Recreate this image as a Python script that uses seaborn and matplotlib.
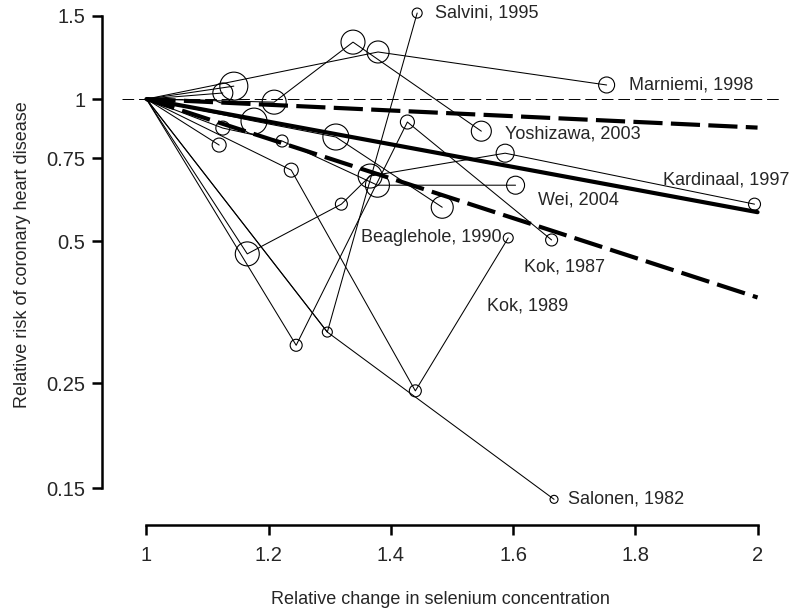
import numpy as np
import pandas as pd
import matplotlib
matplotlib.use("Agg")
import matplotlib.pyplot as plt
import seaborn as sns

# study chains: relative change in selenium and relative risk (reference point 1,1 first)
studies = ["Marniemi, 1998", "Yoshizawa, 2003", "Kardinaal, 1997", "Wei, 2004",
           "Kok, 1987", "Salonen, 1982", "Salvini, 1995", "Beaglehole, 1990", "Kok, 1989",
           "s10", "s11", "s12"]
sel_change = [
    [1, 1.379, 1.753],
    [1, 1.209, 1.338, 1.548],
    [1, 1.165, 1.319, 1.366, 1.587, 1.995],
    [1, 1.125, 1.222, 1.378, 1.604],
    [1, 1.245, 1.427, 1.663],
    [1, 1.296, 1.667],
    [1, 1.296, 1.443],
    [1, 1.237, 1.440, 1.592],
    [1, 1.119],
    [1, 1.176, 1.310, 1.484],
    [1, 1.125],
    [1, 1.143],
]
rel_risk = [
    [1, 1.258, 1.071],
    [1, 0.985, 1.320, 0.855],
    [1, 0.470, 0.599, 0.687, 0.768, 0.599],
    [1, 0.868, 0.815, 0.657, 0.657],
    [1, 0.301, 0.894, 0.503],
    [1, 0.321, 0.142],
    [1, 0.321, 1.521],
    [1, 0.707, 0.241, 0.508],
    [1, 0.799],
    [1, 0.898, 0.831, 0.590],
    [1, 1.030],
    [1, 1.065],
]
# circle diameter (px) for each non-reference point
weights = [
    [22, 16],
    [24, 24, 20],
    [24, 12, 24, 18, 12],
    [14, 12, 24, 18],
    [12, 14, 12],
    [10, 8],
    [10, 10],
    [14, 12, 10],
    [14],
    [26, 26, 22],
    [20],
    [28],
]

# pooled dose-response and 95% CI
pooled_x = [1, 2]
pooled_rr = [1, 0.576]
ci_low = [1, 0.38]
ci_high = [1, 0.87]

label_names = ["Marniemi, 1998", "Yoshizawa, 2003", "Kardinaal, 1997", "Wei, 2004",
               "Kok, 1987", "Salonen, 1982", "Salvini, 1995", "Beaglehole, 1990", "Kok, 1989"]
label_x = [1.789, 1.587, 1.846, 1.640, 1.618, 1.690, 1.472, 1.582, 1.557]
label_rr = [1.071, 0.843, 0.674, 0.611, 0.441, 0.142, 1.52, 0.508, 0.364]
label_ha = ["left", "left", "left", "left", "left", "left", "left", "right", "left"]

rows = []
for name, xs, ys in zip(studies, sel_change, rel_risk):
    for x, y in zip(xs, ys):
        rows.append({"study": name, "x": x, "rr": y})
df = pd.DataFrame(rows)

pts = []
for name, xs, ys, ws in zip(studies, sel_change, rel_risk, weights):
    for x, y, w in zip(xs[1:], ys[1:], ws):
        pts.append({"x": x, "rr": y, "area": (w * 0.72) ** 2})
pts = pd.DataFrame(pts).drop_duplicates(subset=["x", "rr"])

sns.set_theme(style="white")
plt.rcParams["font.family"] = ["Liberation Sans", "DejaVu Sans"]

fig = plt.figure(figsize=(8, 6.09), dpi=100)
ax = fig.add_axes([0.1525, 0.1675, 0.825, 0.8374])

# thin study lines and open circles
sns.lineplot(data=df, x="x", y="rr", units="study", estimator=None, sort=False,
             color="black", linewidth=0.75, ax=ax)
sns.scatterplot(data=pts, x="x", y="rr", s=pts["area"].values, color="white",
                edgecolor="black", linewidth=0.8, ax=ax, zorder=3)
ax.collections[-1].set_facecolor("none")

# reference line and pooled trend
ax.axhline(1, color="black", linewidth=0.7, dashes=(12, 5))
sns.lineplot(x=pooled_x, y=pooled_rr, color="black", linewidth=3, ax=ax)
sns.lineplot(x=pooled_x, y=ci_low, color="black", linewidth=3, ax=ax)
sns.lineplot(x=pooled_x, y=ci_high, color="black", linewidth=3, ax=ax)
ax.lines[-1].set_dashes((7, 2))
ax.lines[-2].set_dashes((7, 2))

for name, x, y, ha in zip(label_names, label_x, label_rr, label_ha):
    ax.text(x, y, name, ha=ha, va="center", fontsize=13)

ax.set_yscale("log")
ax.set_xlim(0.96, 2.04)
ax.set_ylim(0.1368, 1.6447)
yt = [0.15, 0.25, 0.5, 0.75, 1, 1.5]
ax.set_yticks(yt)
ax.set_yticklabels(["0.15", "0.25", "0.5", "0.75", "1", "1.5"])
ax.yaxis.set_minor_locator(matplotlib.ticker.NullLocator())
ax.set_xticks([1, 1.2, 1.4, 1.6, 1.8, 2])
ax.set_xticklabels(["1", "1.2", "1.4", "1.6", "1.8", "2"])

for s in ["top", "right"]:
    ax.spines[s].set_visible(False)
ax.spines["left"].set_position(("outward", 14.4))
ax.spines["bottom"].set_position(("outward", 13))
ax.spines["left"].set_bounds(0.15, 1.5)
ax.spines["bottom"].set_bounds(1, 2)
for s in ["left", "bottom"]:
    ax.spines[s].set_linewidth(1.8)
    ax.spines[s].set_color("black")
ax.tick_params(axis="both", which="major", length=7, width=1.8, color="black",
               labelsize=14.5, direction="out", left=True, bottom=True)
ax.tick_params(axis="y", pad=5)
ax.tick_params(axis="x", pad=8)

ax.set_xlabel("Relative change in selenium concentration", fontsize=13)
ax.set_ylabel("Relative risk of coronary heart disease", fontsize=13)
ax.xaxis.set_label_coords(0.483, -0.165)
ax.yaxis.set_label_coords(-0.138, 0.494)

fig.savefig("out.png", dpi=100)
